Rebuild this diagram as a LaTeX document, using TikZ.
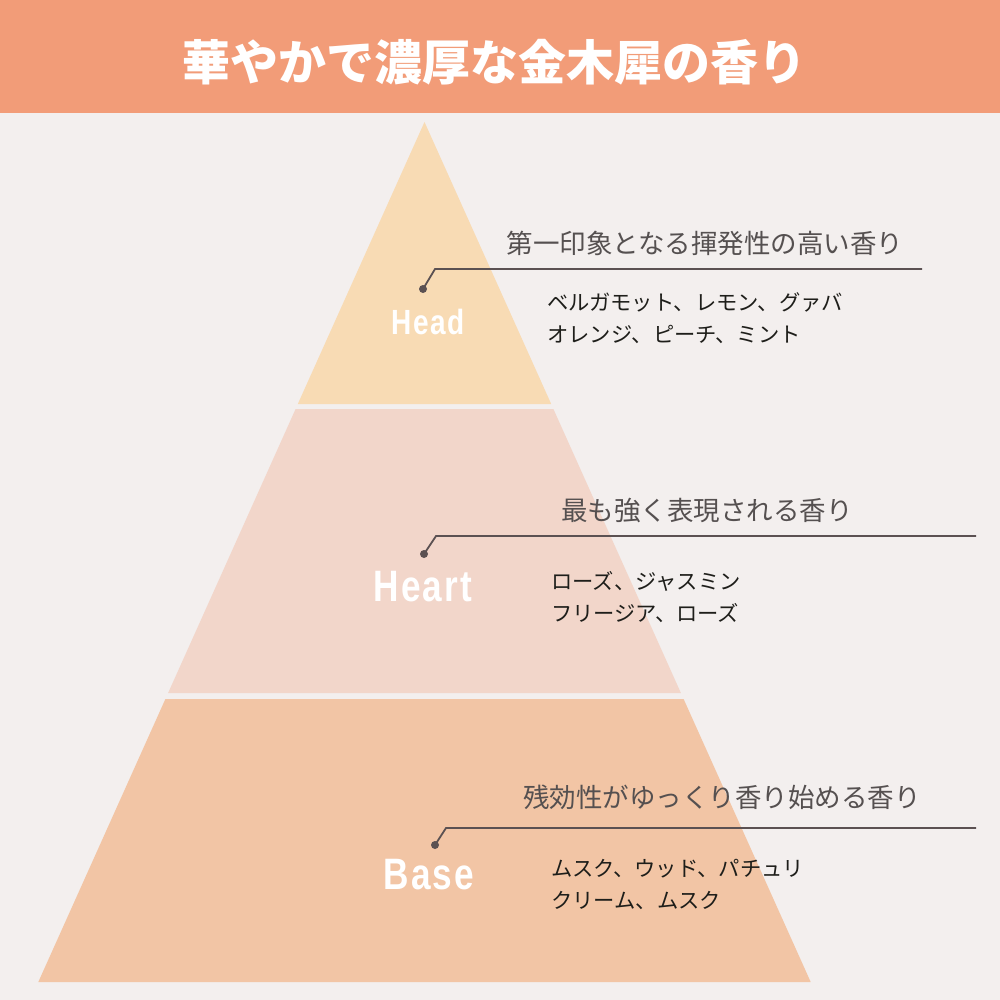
\documentclass[tikz,border=0pt]{standalone}
\usepackage{fontspec}
\newfontfamily\jp{Noto Sans CJK JP}
\newfontfamily\lab{Liberation Sans}[LetterSpace=6]
\definecolor{bg}{HTML}{F3EFEE}
\definecolor{band}{HTML}{F29C78}
\definecolor{headc}{HTML}{F8DBB4}
\definecolor{heartc}{HTML}{F2D6CA}
\definecolor{basec}{HTML}{F2C5A5}
\definecolor{leadc}{HTML}{5B5152}
\definecolor{subc}{HTML}{555050}
\definecolor{itemc}{HTML}{1E1E1A}
\tikzset{
  subtitle/.style={anchor=base, inner sep=0pt, text=subc, font=\jp\fontsize{26.5}{30}\selectfont},
  itemtxt/.style={anchor=base west, inner sep=0pt, text=itemc, font=\jp\fontsize{21.3}{26}\selectfont},
  layerlab/.style={inner sep=0pt, text=white, font=\lab\bfseries\fontsize{#1}{#1}\selectfont, xscale=0.8},
  leader/.style={draw=leadc, line width=1.8pt},
}
\begin{document}
\begin{tikzpicture}[x=1pt,y=-1pt]
\useasboundingbox (0,0) rectangle (1000,1000);
\fill[bg] (0,0) rectangle (1000,1000);
% title band
\fill[band] (0,0) rectangle (1000,113);
\node[anchor=base, inner sep=0pt, text=white, font=\jp\bfseries\fontsize{48}{50}\selectfont] (title) at (494,81) {華やかで濃厚な金木犀の香り};
% pyramid layers (apex 424.5,122 ; slope 0.449)
\fill[headc] (424.5,122) -- (551.2,404) -- (297.8,404) -- cycle;
\fill[heartc] (553.4,409) -- (680.9,693) -- (168.1,693) -- (295.6,409) -- cycle;
\fill[basec] (683.6,699) -- (810.7,982) -- (38.3,982) -- (165.4,699) -- cycle;
% layer labels
\node[layerlab=35] (headlab) at (428,321.5) {Head};
\node[layerlab=44] (heartlab) at (423,587) {Heart};
\node[layerlab=44] (baselab) at (429,875) {Base};
% Head leader
\coordinate (hd) at (423,289);
\coordinate (hb) at (435,269);
\coordinate (he) at (922,269);
\draw[leader] (hd) -- (hb) -- (he);
\fill[leadc] (hd) circle (4);
\node[subtitle] (headsub) at (705,253) {第一印象となる揮発性の高い香り};
\node[itemtxt] (headi1) at (547,310) {ベルガモット、レモン、グァバ};
\node[itemtxt] (headi2) at (547,342) {オレンジ、ピーチ、ミント};
% Heart leader
\coordinate (rd) at (424,554);
\coordinate (rb) at (436,536);
\coordinate (re) at (976,536);
\draw[leader] (rd) -- (rb) -- (re);
\fill[leadc] (rd) circle (4);
\node[subtitle] (heartsub) at (707,520) {最も強く表現される香り};
\node[itemtxt] (hearti1) at (551,589) {ローズ、ジャスミン};
\node[itemtxt] (hearti2) at (551,621) {フリージア、ローズ};
% Base leader
\coordinate (bd) at (435,845);
\coordinate (bb) at (446,828);
\coordinate (be) at (976,828);
\draw[leader] (bd) -- (bb) -- (be);
\fill[leadc] (bd) circle (4);
\node[subtitle] (basesub) at (722,807) {残効性がゆっくり香り始める香り};
\node[itemtxt] (basei1) at (551,876) {ムスク、ウッド、パチュリ};
\node[itemtxt] (basei2) at (551,908) {クリーム、ムスク};
\end{tikzpicture}
\end{document}
